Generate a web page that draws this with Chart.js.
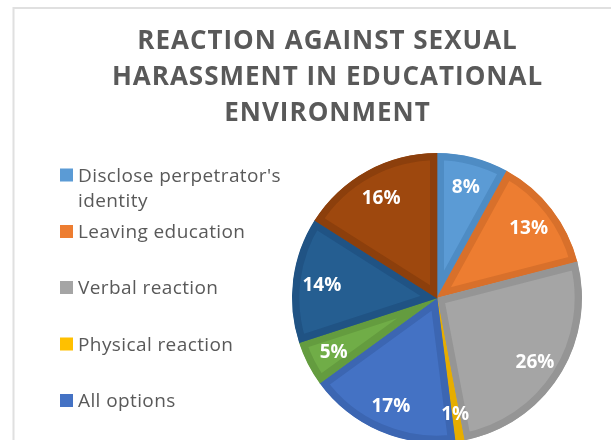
<!DOCTYPE html>
<html><head><meta charset="utf-8">
<script src="https://cdn.jsdelivr.net/npm/chart.js"></script>
<style>
html,body{margin:0;padding:0;background:#fff;overflow:hidden;}
#wrap{width:611px;height:440px;overflow:hidden;position:relative;}
</style></head><body>
<div id="wrap"><canvas id="c" width="611" height="460"></canvas></div>
<script>
const titleLines = ["REACTION AGAINST SEXUAL", "HARASSMENT IN EDUCATIONAL", "ENVIRONMENT"];
const categories = [["Disclose perpetrator's", "identity"], ["Leaving education"], ["Verbal reaction"], ["Physical reaction"], ["All options"], ["Option 6"], ["Option 7"], ["Option 8"]];
const shares = [8, 13, 26, 1, 17, 5, 14, 16];
const fillColors = ["#5B9BD5", "#ED7D31", "#A5A5A5", "#FFC000", "#4472C4", "#70AD47", "#255E91", "#9E480E"];
const edgeColors = ["#4E8CC4", "#D8702B", "#959595", "#E6AD00", "#3C66B2", "#649C3F", "#205384", "#8C3F0C"];

const legendCenters = [175, 231.5, 287.5, 344, 400.5, 457, 513.5, 570];

const decor = {
  id: 'decor',
  beforeDraw(chart) {
    const ctx = chart.ctx;
    ctx.save();
    ctx.fillStyle = '#fff';
    ctx.fillRect(0, 0, chart.width, chart.height);
    ctx.strokeStyle = '#e0e0e0';
    ctx.lineWidth = 2;
    ctx.strokeRect(13.5, 8, 800, 800);
    ctx.fillStyle = '#595959';
    ctx.font = 'bold 26px "Open Sans"';
    ctx.letterSpacing = '1px';
    ctx.textAlign = 'center';
    ctx.textBaseline = 'alphabetic';
    titleLines.forEach((t, i) => ctx.fillText(t, 327.5, 49 + i * 36));
    ctx.textAlign = 'left';
    ctx.font = '19px "Open Sans"';
    ctx.letterSpacing = '0.4px';
    categories.forEach((lines, i) => {
      const cy = legendCenters[i];
      ctx.fillStyle = fillColors[i];
      ctx.fillRect(60, cy - 6.5, 13, 13);
      ctx.fillStyle = '#595959';
      lines.forEach((ln, j) => ctx.fillText(ln, 78, cy + 6.8 + j * 25.5));
    });
    ctx.restore();
  },
  afterDatasetsDraw(chart) {
    const ctx = chart.ctx;
    const meta = chart.getDatasetMeta(0);
    ctx.save();
    ctx.fillStyle = '#fff';
    ctx.font = 'bold 19px "Open Sans"';
    ctx.textAlign = 'center';
    ctx.textBaseline = 'alphabetic';
    meta.data.forEach((arc, i) => {
      const p = arc.getProps(['x', 'y', 'startAngle', 'endAngle', 'outerRadius'], true);
      const mid = (p.startAngle + p.endAngle) / 2;
      const d = p.outerRadius * 0.8;
      ctx.fillText(shares[i] + '%', p.x + Math.cos(mid) * d, p.y + Math.sin(mid) * d + 7.5);
    });
    ctx.restore();
  }
};

new Chart(document.getElementById('c'), {
  type: 'pie',
  data: {
    labels: categories.map(c => c.join(' ')),
    datasets: [{
      data: shares,
      backgroundColor: fillColors,
      borderColor: edgeColors,
      borderWidth: 7,
      borderAlign: 'inner',
      hoverOffset: 0
    }]
  },
  options: {
    responsive: false,
    animation: false,
    radius: 145,
    layout: { padding: { left: 280, right: 17, top: 150, bottom: 14 } },
    plugins: { legend: { display: false }, title: { display: false }, tooltip: { enabled: true } }
  },
  plugins: [decor]
});
</script>
</body></html>
